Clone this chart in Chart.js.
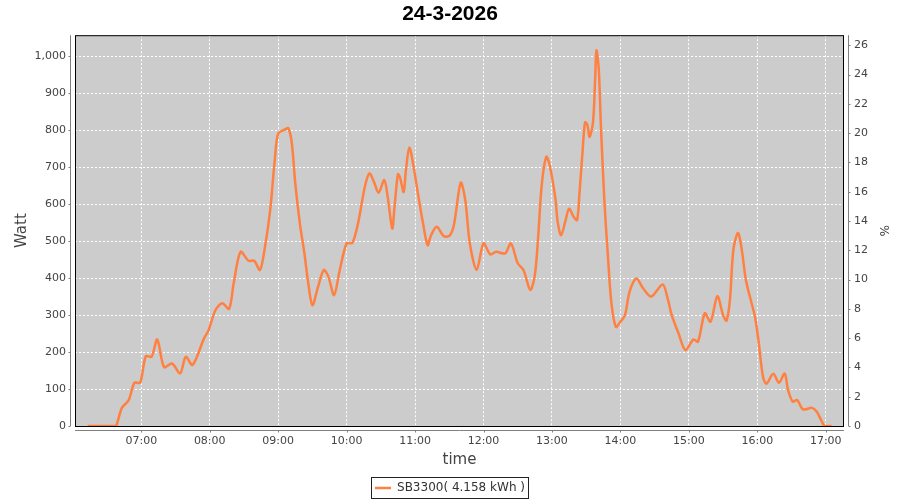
<!DOCTYPE html>
<html>
<head>
<meta charset="utf-8">
<title>24-3-2026</title>
<script src="https://cdn.jsdelivr.net/npm/chart.js@4.4.1/dist/chart.umd.min.js"></script>
<style>
  html, body { margin: 0; padding: 0; background: #fff; }
  #wrap { width: 900px; height: 500px; position: relative; }
</style>
</head>
<body>
<div id="wrap"><canvas id="chartPower"></canvas></div>
<script>
// readings of the SB3300 inverter, 24-3-2026
const times = [
  '06:13', '06:36', '06:38', '06:43', '06:49', '06:54', '06:59', '07:04', '07:09', '07:14',
  '07:20', '07:27', '07:34', '07:39', '07:45', '07:55', '07:59', '08:05', '08:11', '08:17',
  '08:21', '08:27', '08:34', '08:39', '08:44', '08:48', '08:53', '08:57', '09:00', '09:06',
  '09:09', '09:12', '09:15', '09:19', '09:23', '09:26', '09:30', '09:35', '09:40', '09:44',
  '09:49', '09:54', '10:00', '10:05', '10:10', '10:16', '10:20', '10:24', '10:28', '10:33',
  '10:36', '10:40', '10:42', '10:45', '10:47', '10:50', '10:52', '10:55', '10:59', '11:03',
  '11:07', '11:11', '11:14', '11:19', '11:25', '11:30', '11:34', '11:40', '11:44', '11:48',
  '11:54', '12:00', '12:06', '12:11', '12:19', '12:24', '12:30', '12:35', '12:41', '12:45',
  '12:48', '12:51', '12:55', '12:58', '13:03', '13:05', '13:08', '13:12', '13:15', '13:19',
  '13:22', '13:24', '13:27', '13:29', '13:31', '13:33', '13:36', '13:38', '13:39', '13:41',
  '13:43', '13:46', '13:49', '13:52', '13:56', '14:00', '14:04', '14:08', '14:14', '14:20',
  '14:27', '14:37', '14:41', '14:45', '14:51', '14:57', '15:04', '15:08', '15:14', '15:19',
  '15:25', '15:30', '15:33', '15:36', '15:39', '15:43', '15:46', '15:50', '15:55', '15:58',
  '16:01', '16:05', '16:08', '16:14', '16:19', '16:24', '16:27', '16:31', '16:35', '16:40',
  '16:48', '16:52', '16:56', '16:59', '17:05'
];
const watts = [
  0, 0, 0, 49, 70, 117, 117, 189, 187, 234,
  159, 169, 142, 187, 165, 237, 259, 313, 332, 317,
  386, 471, 447, 447, 422, 476, 584, 719, 791, 802,
  805, 764, 656, 548, 467, 395, 327, 377, 422, 404,
  354, 422, 494, 495, 548, 647, 683, 660, 631, 665,
  620, 534, 593, 681, 670, 633, 692, 753, 696, 620,
  548, 489, 516, 539, 514, 514, 543, 658, 611, 494,
  422, 494, 464, 471, 467, 494, 440, 422, 368, 408,
  516, 651, 728, 705, 615, 552, 516, 557, 588, 566,
  557, 624, 750, 821, 815, 782, 822, 949, 1016, 967,
  805, 606, 462, 336, 268, 282, 300, 363, 399, 372,
  350, 383, 350, 300, 250, 205, 234, 228, 305, 282,
  351, 300, 285, 341, 476, 522, 485, 395, 332, 295,
  232, 133, 114, 141, 117, 142, 97, 66, 70, 45,
  49, 39, 16, 0, 0
];
const hourTicks = ['07:00', '08:00', '09:00', '10:00', '11:00', '12:00', '13:00', '14:00', '15:00', '16:00', '17:00'];
const seriesName = 'SB3300( 4.158 kWh )';
const chartTitle = '24-3-2026';

const toMin = (s) => { const [h, m] = s.split(':').map(Number); return h * 60 + m; };
const fmtTime = (v) => String(Math.floor(v / 60)).padStart(2, '0') + ':' + String(Math.round(v % 60)).padStart(2, '0');

const xMin = 361.9, xMax = 1036;
const wattMax = 1057;
const pctMax = wattMax / 39.6;

const axisGray = '#808080';
const textGray = '#444444';

Chart.defaults.font.family = "'DejaVu Sans', sans-serif";
Chart.defaults.color = textGray;

// grey plot background, black frame, axis lines set off from the plot like the original
const plotFrame = {
  id: 'plotFrame',
  beforeDraw(chart) {
    const { ctx, chartArea: a } = chart;
    ctx.save();
    ctx.fillStyle = '#cccccc';
    ctx.fillRect(a.left, a.top, a.right - a.left, a.bottom - a.top);
    ctx.restore();
  },
  afterDatasetsDraw(chart) {
    const { ctx, chartArea: a, scales } = chart;
    ctx.save();
    ctx.strokeStyle = '#000';
    ctx.lineWidth = 1;
    ctx.strokeRect(a.left + 0.5, a.top + 0.5, a.right - a.left - 1, a.bottom - a.top);

    ctx.strokeStyle = axisGray;
    ctx.beginPath();
    const lx = a.left - 4.5;
    ctx.moveTo(lx, a.top); ctx.lineTo(lx, a.bottom);
    scales.y.ticks.forEach(t => {
      const py = Math.round(scales.y.getPixelForValue(t.value)) + 0.5;
      ctx.moveTo(lx, py); ctx.lineTo(lx - 2, py);
    });
    const rx = a.right + 4.5;
    ctx.moveTo(rx, a.top); ctx.lineTo(rx, a.bottom);
    scales.y1.ticks.forEach(t => {
      const py = Math.round(scales.y1.getPixelForValue(t.value)) + 0.5;
      ctx.moveTo(rx, py); ctx.lineTo(rx + 2, py);
    });
    const by = a.bottom + 4.5;
    ctx.moveTo(a.left, by); ctx.lineTo(a.right, by);
    scales.x.ticks.forEach(t => {
      const px = Math.round(scales.x.getPixelForValue(t.value)) + 0.5;
      ctx.moveTo(px, by); ctx.lineTo(px, by + 2);
    });
    ctx.stroke();
    ctx.restore();
  },
  afterDraw(chart) {
    const box = chart.legend && chart.legend.legendHitBoxes && chart.legend.legendHitBoxes[0];
    if (!box) return;
    const { ctx } = chart;
    ctx.save();
    ctx.strokeStyle = '#222';
    ctx.lineWidth = 1;
    ctx.strokeRect(Math.round(box.left) - 3.5, Math.round(box.top) - 4.5, Math.round(box.width) + 7, Math.round(box.height) + 9);
    ctx.restore();
  },
};

const gridDash = { color: '#ffffff', lineWidth: 1, drawTicks: false };

new Chart(document.getElementById('chartPower'), {
  type: 'line',
  data: {
    datasets: [{
      label: seriesName,
      data: times.map((t, i) => ({ x: toMin(t), y: watts[i] })),
      borderColor: '#ff8040',
      backgroundColor: '#ff8040',
      borderWidth: 2.5,
      pointRadius: 0,
      tension: 0.3,
      yAxisID: 'y',
    }],
  },
  options: {
    responsive: true,
    maintainAspectRatio: false,
    animation: false,
    layout: { padding: { left: 0, right: 0, top: 0, bottom: -4 } },
    plugins: {
      title: {
        display: true,
        text: chartTitle,
        color: '#000',
        font: { family: "'Liberation Sans', sans-serif", size: 21, weight: 'bold' },
        padding: { top: 2, bottom: 8 },
      },
      legend: {
        position: 'bottom',
        labels: {
          usePointStyle: true,
          pointStyle: 'line',
          pointStyleWidth: 16,
          padding: 10,
          color: '#333',
          font: { size: 12 },
        },
      },
      tooltip: { enabled: false },
    },
    scales: {
      x: {
        type: 'linear',
        min: xMin,
        max: xMax,
        afterBuildTicks: (scale) => { scale.ticks = hourTicks.map(t => ({ value: toMin(t) })); },
        afterFit: (scale) => { scale.height = 46; },
        ticks: { callback: (v) => fmtTime(v), padding: 9, maxRotation: 0, font: { size: 11 }, color: textGray },
        grid: { ...gridDash },
        border: { display: false, dash: [2, 2] },
        title: { display: true, text: 'time', font: { size: 15 }, color: textGray, padding: { top: 0, bottom: 3 } },
      },
      y: {
        position: 'left',
        min: 0,
        max: wattMax,
        afterFit: (scale) => { scale.width = 75; },
        ticks: { stepSize: 100, includeBounds: false, padding: 9, font: { size: 11 }, color: textGray },
        grid: { ...gridDash },
        border: { display: false, dash: [2, 2] },
        title: { display: true, text: 'Watt', font: { size: 15 }, color: textGray, padding: { top: 13, bottom: 0 } },
      },
      y1: {
        position: 'right',
        min: 0,
        max: pctMax,
        afterFit: (scale) => { scale.width = 56; },
        ticks: { stepSize: 2, includeBounds: false, padding: 10, font: { size: 11 }, color: textGray },
        grid: { display: false, drawTicks: false },
        border: { display: false },
        title: { display: true, text: '%', font: { size: 12 }, color: textGray, padding: { top: 10, bottom: 0 } },
      },
    },
  },
  plugins: [plotFrame],
});
</script>
</body>
</html>
